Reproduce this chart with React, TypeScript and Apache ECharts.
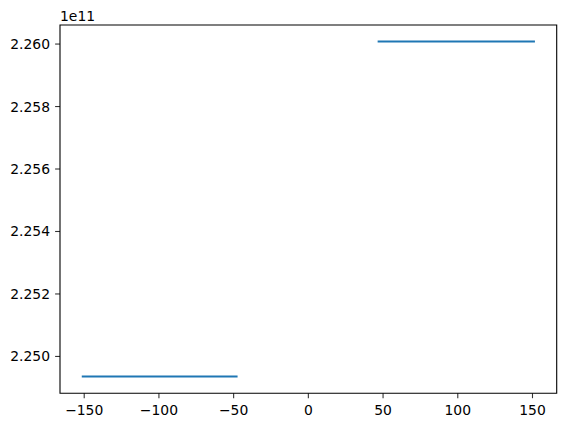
import * as echarts from 'echarts';
import { useEffect, useRef } from 'react';

// two flat pieces, gap in the middle
const leftX = [-151, -48];
const rightX = [47, 151];
const lowValue = 2.24936e11;
const highValue = 2.26008e11;

const xTicks = [-150, -100, -50, 0, 50, 100, 150];
const yTicks = [2.25e11, 2.252e11, 2.254e11, 2.256e11, 2.258e11, 2.26e11];
const offsetText = '1e11';

const X_MIN = -166.2;
const X_MAX = 166.2;
const Y_MIN = 2.24882e11;
const Y_MAX = 2.26061e11;

const FONT = 'DejaVu Sans';
const FS = 13.9;
const TICK_LEN = 4.9;
const TICK_W = 1.1;

export default function App() {
  const chartRef = useRef<HTMLDivElement>(null);

  useEffect(() => {
    if (!chartRef.current) return;
    const chart = echarts.init(chartRef.current, undefined, { renderer: 'svg' });

    // outward ticks drawn as tiny rects sitting on the frame edges
    const tickSeries = (data: number[][], size: number[], offset: number[]) => ({
      type: 'scatter',
      data,
      symbol: 'rect',
      symbolSize: size,
      symbolOffset: offset,
      itemStyle: { color: '#000' },
      clip: false,
      silent: true,
      z: 5,
    });

    chart.setOption({
      animation: false,
      backgroundColor: '#fff',
      textStyle: { fontFamily: FONT },
      grid: {
        left: 60,
        right: 8.3,
        top: 25,
        bottom: 34.7,
        show: true,
        borderColor: '#000',
        borderWidth: TICK_W,
        backgroundColor: 'transparent',
      },
      xAxis: {
        type: 'value',
        min: X_MIN,
        max: X_MAX,
        position: 'bottom',
        axisLine: { show: false, onZero: false },
        splitLine: { show: false },
        axisTick: { show: false },
        axisLabel: {
          color: '#000',
          fontFamily: FONT,
          fontSize: FS,
          margin: 10,
          customValues: xTicks,
          formatter: (v: number) => String(v).replace('-', '\u2212'),
        },
      },
      yAxis: {
        type: 'value',
        min: Y_MIN,
        max: Y_MAX,
        position: 'left',
        axisLine: { show: false, onZero: false },
        splitLine: { show: false },
        axisTick: { show: false },
        axisLabel: {
          color: '#000',
          fontFamily: FONT,
          fontSize: FS,
          margin: 10,
          customValues: yTicks,
          formatter: (v: number) => (v / 1e11).toFixed(3),
        },
      },
      graphic: [
        {
          type: 'text',
          left: 60,
          top: 9,
          style: { text: offsetText, font: `${FS}px "${FONT}"`, fill: '#000' },
        },
      ],
      series: [
        {
          type: 'line',
          data: leftX.map((x) => [x, lowValue]),
          showSymbol: false,
          lineStyle: { color: '#1f77b4', width: 1.9, cap: 'square' },
          silent: true,
        },
        {
          type: 'line',
          data: rightX.map((x) => [x, highValue]),
          showSymbol: false,
          lineStyle: { color: '#1f77b4', width: 1.9, cap: 'square' },
          silent: true,
        },
        tickSeries(xTicks.map((v) => [v, Y_MIN]), [TICK_W, TICK_LEN], [0, TICK_LEN / 2]),
        tickSeries(yTicks.map((v) => [X_MIN, v]), [TICK_LEN, TICK_W], [-TICK_LEN / 2, 0]),
      ],
    });

    return () => chart.dispose();
  }, []);

  return (
    <div
      ref={chartRef}
      style={{ position: 'fixed', left: 0, top: 0, width: 565, height: 428 }}
    />
  );
}
